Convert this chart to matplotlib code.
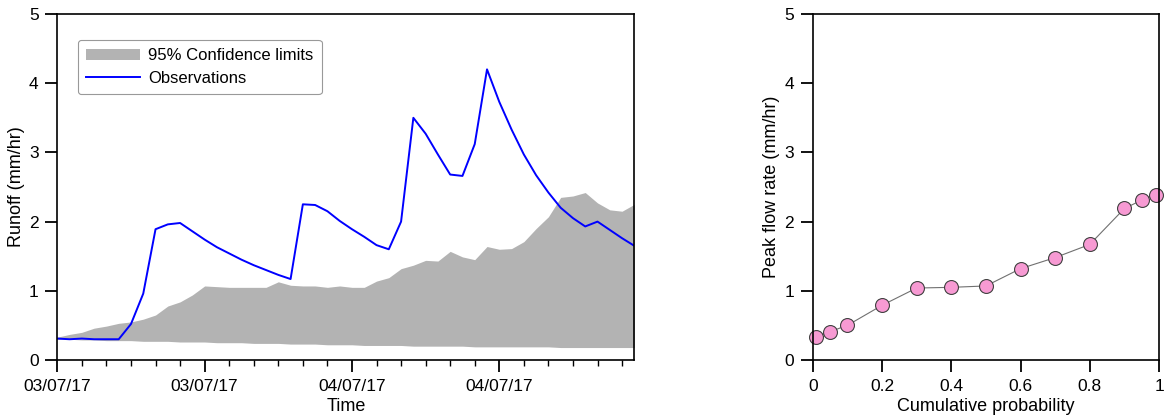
import matplotlib.pyplot as plt
import numpy as np

plt.rcParams["font.family"] = ["Liberation Sans", "DejaVu Sans"]

# hourly steps from 03/07/17 00:00
hours = np.arange(48)
obs = [0.31, 0.30, 0.31, 0.30, 0.30, 0.30, 0.52, 0.96, 1.89, 1.96, 1.98, 1.86,
       1.74, 1.63, 1.54, 1.45, 1.37, 1.30, 1.23, 1.17, 2.25, 2.24, 2.15, 2.01,
       1.89, 1.78, 1.66, 1.60, 2.00, 3.50, 3.27, 2.97, 2.68, 2.66, 3.12, 4.20,
       3.73, 3.33, 2.97, 2.67, 2.42, 2.20, 2.05, 1.93, 2.00, 1.88, 1.76, 1.65]
upper = [0.33, 0.37, 0.40, 0.46, 0.49, 0.53, 0.55, 0.59, 0.65, 0.78, 0.84, 0.94,
         1.07, 1.06, 1.05, 1.05, 1.05, 1.05, 1.13, 1.08, 1.07, 1.07, 1.05, 1.07,
         1.05, 1.05, 1.14, 1.19, 1.32, 1.37, 1.44, 1.43, 1.57, 1.49, 1.45, 1.64,
         1.60, 1.61, 1.71, 1.90, 2.07, 2.35, 2.37, 2.42, 2.27, 2.17, 2.15, 2.25]
lower = [0.30, 0.30, 0.29, 0.29, 0.28, 0.28, 0.28, 0.27, 0.27, 0.27, 0.26, 0.26,
         0.26, 0.25, 0.25, 0.25, 0.24, 0.24, 0.24, 0.23, 0.23, 0.23, 0.22, 0.22,
         0.22, 0.21, 0.21, 0.21, 0.21, 0.20, 0.20, 0.20, 0.20, 0.20, 0.19, 0.19,
         0.19, 0.19, 0.19, 0.19, 0.19, 0.18, 0.18, 0.18, 0.18, 0.18, 0.18, 0.18]
tick_labels = ["03/07/17", "03/07/17", "04/07/17", "04/07/17"]

# peak flow cdf
prob = [0.01, 0.05, 0.1, 0.2, 0.3, 0.4, 0.5, 0.6, 0.7, 0.8, 0.9, 0.95, 0.99]
peak = [0.33, 0.41, 0.50, 0.79, 1.04, 1.05, 1.07, 1.32, 1.48, 1.67, 2.19, 2.31, 2.39]

fig = plt.figure(figsize=(11.65, 4.19), dpi=100)
ax1 = fig.add_axes([0.0492, 0.1408, 0.4953, 0.8258])
ax2 = fig.add_axes([0.6976, 0.1408, 0.2973, 0.8258])

ax1.fill_between(hours, lower, upper, color="#b3b3b3", lw=0, label="95% Confidence limits")
ax1.plot(hours, obs, color="#0000ff", lw=1.4, label="Observations")
ax1.set_xlim(0, 47)
ax1.set_ylim(0, 5)
ax1.set_xticks([0, 12, 24, 36])
ax1.set_xticklabels(tick_labels)
ax1.set_xticks(np.arange(0, 48, 2), minor=True)
ax1.set_yticks([0, 1, 2, 3, 4, 5])
ax1.tick_params(which="major", direction="out", length=8.5, width=1.3, labelsize=12.5, pad=5)
ax1.tick_params(which="minor", direction="out", length=4, width=1.0)
ax1.set_xlabel("Time", fontsize=13, labelpad=3)
ax1.set_ylabel("Runoff (mm/hr)", fontsize=13, labelpad=3)
leg = ax1.legend(loc="upper left", bbox_to_anchor=(0.036, 0.925), borderaxespad=0,
                 fontsize=12, frameon=True, fancybox=True, edgecolor="#808080",
                 handlelength=3.2, handletextpad=0.5, borderpad=0.5, labelspacing=0.45)
leg.get_frame().set_linewidth(0.8)

ax2.plot(prob, peak, color="#707070", lw=0.8, marker="o", ms=10,
         mfc="#f79ad3", mec="#404040", mew=0.8, clip_on=False)
ax2.set_xlim(0, 1)
ax2.set_ylim(0, 5)
ax2.set_xticks([0, 0.2, 0.4, 0.6, 0.8, 1])
ax2.set_xticklabels(["0", "0.2", "0.4", "0.6", "0.8", "1"])
ax2.set_yticks([0, 1, 2, 3, 4, 5])
ax2.tick_params(direction="out", length=8.5, width=1.3, labelsize=12.5, pad=5)
ax2.set_xlabel("Cumulative probability", fontsize=13, labelpad=3)
ax2.set_ylabel("Peak flow rate (mm/hr)", fontsize=13, labelpad=3)

for ax in (ax1, ax2):
    for s in ax.spines.values():
        s.set_linewidth(1.2)

fig.savefig("out.png", dpi=100)
